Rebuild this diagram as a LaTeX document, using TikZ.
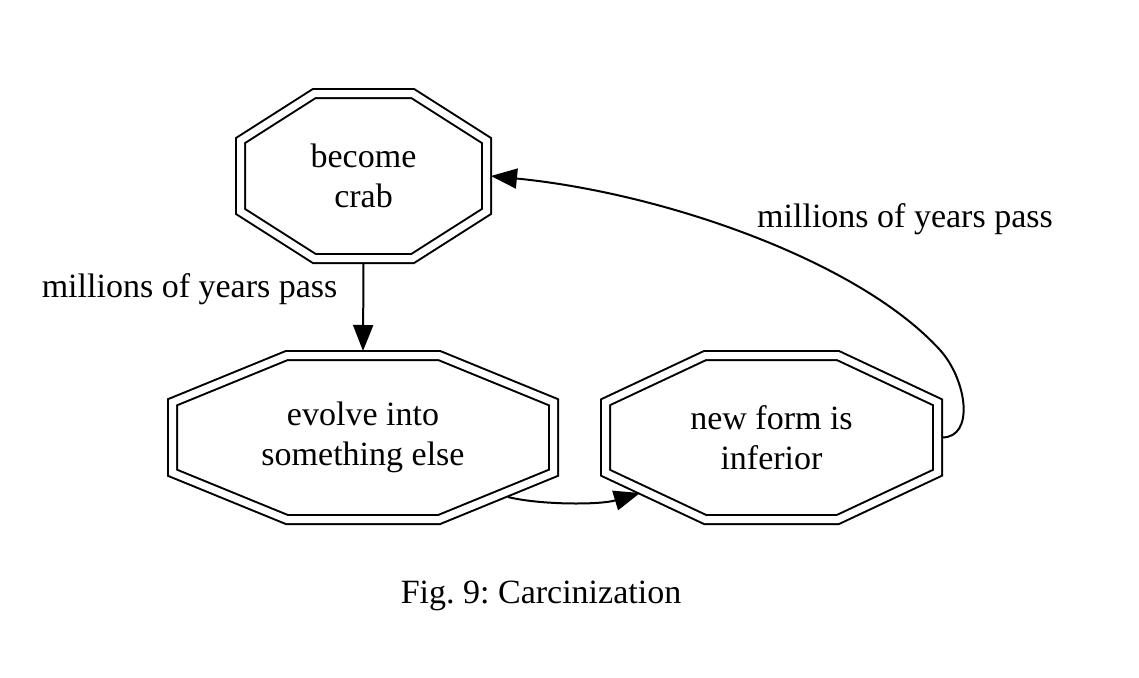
\documentclass[tikz,border=0pt]{standalone}
\usepackage{fontspec}
\setmainfont{Liberation Serif}
\frenchspacing
\usetikzlibrary{arrows.meta,calc}
% double-lined octagon round a node box
\newcommand\octagon[1]{%
 \draw[octline] let \p1=($(#1.south west)+(4.5pt,4.5pt)$), \p2=($(#1.north east)-(4.5pt,4.5pt)$),
  \n1={0.3*(\x2-\x1)}, \n2={0.285*(\y2-\y1)} in
  (\x1+\n1,\y2) -- (\x2-\n1,\y2) -- (\x2,\y2-\n2) -- (\x2,\y1+\n2)
  -- (\x2-\n1,\y1) -- (\x1+\n1,\y1) -- (\x1,\y1+\n2) -- (\x1,\y2-\n2) -- cycle;}
\begin{document}
\begin{tikzpicture}[x=1pt,y=-1pt,
 every node/.style={font=\fontsize{34}{40}\selectfont},
 octbox/.style={inner sep=0pt, outer sep=0pt, align=center},
 octline/.style={draw, line width=2pt, double=white, double distance=7pt, line join=miter},
 edge/.style={line width=2pt, -{Triangle[length=26pt,width=20pt]}},
 lbl/.style={inner sep=0pt}]
 \useasboundingbox (0,0) rectangle (1139,677);
 %
 \node[octbox, minimum width=255pt, minimum height=174pt] (crab) at (363.5,176) {become\\crab};
 \node[octbox, minimum width=390pt, minimum height=173pt] (evolve) at (363,437.5) {evolve into\\something else};
 \node[octbox, minimum width=341pt, minimum height=173pt] (inferior) at (771.5,437.5) {new form is\\inferior};
 \octagon{crab}
 \octagon{evolve}
 \octagon{inferior}
 %
 \draw[edge] (crab.south) -- node[lbl, pos=0.3, anchor=east, xshift=-25pt] (yrs1) {millions of years pass} (evolve.north);
 \draw[edge] ([shift={(-50,-27)}]evolve.south east) .. controls +(32,8) and +(-40,12) .. ([shift={(39,-31)}]inferior.south west);
 \coordinate (bend) at (940,350);
 \draw[edge] (inferior.east) .. controls +(33,0) and +(27,30) .. (bend)
  .. controls +(-81,-89) and +(173,17) .. (crab.east);
 \node[lbl] (yrs2) at (905,219) {millions of years pass};
 %
 \node (caption) at (541,596) {Fig. 9: Carcinization};
\end{tikzpicture}
\end{document}
